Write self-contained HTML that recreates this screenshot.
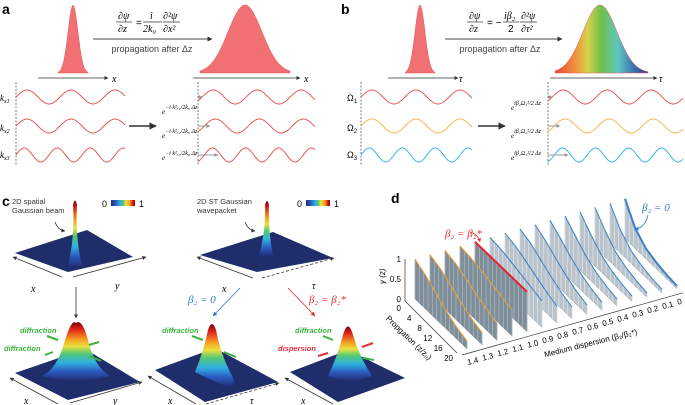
<!DOCTYPE html>
<html><head><meta charset="utf-8"><style>
html,body{margin:0;padding:0;background:#fff;}
svg{display:block;font-family:"Liberation Sans",sans-serif;}
.it{font-family:"Liberation Serif",serif;font-style:italic;}
</style></head><body>
<svg id="fig" width="685" height="405" viewBox="0 0 685 405">
<defs>
<linearGradient id="rainbow" x1="0" x2="1" y1="0" y2="0">
<stop offset="0" stop-color="#e8453c"/><stop offset="0.2" stop-color="#f08a3a"/><stop offset="0.35" stop-color="#d8d24a"/><stop offset="0.5" stop-color="#6cbf4a"/><stop offset="0.68" stop-color="#5ec8c0"/><stop offset="0.85" stop-color="#3a6fb0"/><stop offset="1" stop-color="#2f3f92"/>
</linearGradient>
<linearGradient id="jetv" x1="0" x2="0" y1="0" y2="1">
<stop offset="0" stop-color="#7a0000"/><stop offset="0.12" stop-color="#e0201a"/><stop offset="0.3" stop-color="#f5a020"/><stop offset="0.42" stop-color="#e8e040"/><stop offset="0.55" stop-color="#50c878"/><stop offset="0.7" stop-color="#30b0e0"/><stop offset="0.85" stop-color="#2b5cc0"/><stop offset="1" stop-color="#23307a"/>
</linearGradient>
<linearGradient id="jeth" x1="0" x2="1" y1="0" y2="0">
<stop offset="0" stop-color="#23307a"/><stop offset="0.2" stop-color="#2b5cc0"/><stop offset="0.38" stop-color="#30b0e0"/><stop offset="0.5" stop-color="#50c878"/><stop offset="0.62" stop-color="#e8e040"/><stop offset="0.78" stop-color="#f5a020"/><stop offset="0.9" stop-color="#e0201a"/><stop offset="1" stop-color="#7a0000"/>
</linearGradient>
<marker id="ah" viewBox="0 0 10 10" refX="9" refY="5" markerWidth="5" markerHeight="5" orient="auto"><path d="M0,0L10,5L0,10z" fill="#333"/></marker>
<marker id="ahg" viewBox="0 0 10 10" refX="9" refY="5" markerWidth="4" markerHeight="4" orient="auto"><path d="M0,0L10,5L0,10z" fill="#999"/></marker>
<marker id="ahb" viewBox="0 0 10 10" refX="9" refY="5" markerWidth="5" markerHeight="5" orient="auto"><path d="M0,0L10,5L0,10z" fill="#2a7fd0"/></marker>
<marker id="ahr" viewBox="0 0 10 10" refX="9" refY="5" markerWidth="5" markerHeight="5" orient="auto"><path d="M0,0L10,5L0,10z" fill="#e8303a"/></marker>
</defs>

<text x="2" y="14" font-size="14" font-weight="bold">a</text>
<text x="341" y="14" font-size="14" font-weight="bold">b</text>
<text x="2" y="206" font-size="14" font-weight="bold">c</text>
<text x="391" y="203" font-size="14" font-weight="bold">d</text>

<g id="gauss"></g>
<g id="waves"></g>

<g font-size="10">
<text x="118" y="19" class="it">∂ψ</text><line x1="116" y1="22" x2="132" y2="22" stroke="#333" stroke-width="0.7"/><text x="118" y="32" class="it">∂z</text>
<text x="136" y="26">=</text>
<text x="150" y="19" class="it">i</text><line x1="143" y1="22" x2="162" y2="22" stroke="#333" stroke-width="0.7"/><text x="143" y="32" class="it">2k₀</text>
<text x="163" y="19" class="it">∂²ψ</text><line x1="163" y1="22" x2="180" y2="22" stroke="#333" stroke-width="0.7"/><text x="163" y="32" class="it">∂x²</text>
</g>
<line x1="93" y1="39" x2="212" y2="39" stroke="#444" stroke-width="1" marker-end="url(#ah)"/>
<text x="152" y="52" font-size="9" fill="#444" text-anchor="middle">propagation after Δz</text>
<text x="112" y="82" font-size="10" class="it">x</text>
<text x="304" y="82" font-size="10" class="it">x</text>
<g font-size="9" class="it">
<text x="0" y="101">k<tspan font-size="6" dy="2">x1</tspan></text>
<text x="0" y="131">k<tspan font-size="6" dy="2">x2</tspan></text>
<text x="0" y="158">k<tspan font-size="6" dy="2">x3</tspan></text>
</g>
<g font-size="7" class="it">
<text x="162" y="114">e<tspan dy="-5" font-size="6">−i k²ₓ₁/2k₀ Δz</tspan></text>
<text x="162" y="138">e<tspan dy="-5" font-size="6">−i k²ₓ₂/2k₀ Δz</tspan></text>
<text x="162" y="160">e<tspan dy="-5" font-size="6">−i k²ₓ₃/2k₀ Δz</tspan></text>
</g>
<line x1="129" y1="126" x2="156" y2="126" stroke="#333" stroke-width="1.5" marker-end="url(#ah)"/>

<g font-size="10">
<text x="469" y="19" class="it">∂ψ</text><line x1="467" y1="22" x2="483" y2="22" stroke="#333" stroke-width="0.7"/><text x="469" y="32" class="it">∂z</text>
<text x="487" y="26">= −</text>
<text x="504" y="19" class="it">iβ₂</text><line x1="503" y1="22" x2="519" y2="22" stroke="#333" stroke-width="0.7"/><text x="508" y="32">2</text>
<text x="521" y="19" class="it">∂²ψ</text><line x1="520" y1="22" x2="537" y2="22" stroke="#333" stroke-width="0.7"/><text x="521" y="32" class="it">∂τ²</text>
</g>
<line x1="445" y1="39" x2="562" y2="39" stroke="#444" stroke-width="1" marker-end="url(#ah)"/>
<text x="500" y="52" font-size="9" fill="#444" text-anchor="middle">propagation after Δz</text>
<text x="459" y="82" font-size="10" class="it">τ</text>
<text x="659" y="82" font-size="10" class="it">τ</text>
<g font-size="9">
<text x="347" y="101">Ω<tspan font-size="6" dy="2">1</tspan></text>
<text x="347" y="131">Ω<tspan font-size="6" dy="2">2</tspan></text>
<text x="347" y="158">Ω<tspan font-size="6" dy="2">3</tspan></text>
</g>
<g font-size="7" class="it">
<text x="511" y="110">e<tspan dy="-5" font-size="6">iβ₂Ω₁²/2 Δz</tspan></text>
<text x="511" y="138">e<tspan dy="-5" font-size="6">iβ₂Ω₂²/2 Δz</tspan></text>
<text x="511" y="160">e<tspan dy="-5" font-size="6">iβ₂Ω₃²/2 Δz</tspan></text>
</g>
<line x1="478" y1="126" x2="505" y2="126" stroke="#333" stroke-width="1.5" marker-end="url(#ah)"/>

<g>
<g>
<path d="M15,253 L87,230 L133,257 L68,272 Z" fill="#1f2d6b"/>
<path d="M68,266 Q75,236 73,205 Q75,196 77,205 Q75,236 82,266 Z" fill="url(#jetv)"/>
<line x1="62" y1="277" x2="13" y2="257" stroke="#333" stroke-width="0.8" marker-end="url(#ah)"/>
<line x1="73" y1="277" x2="146" y2="257" stroke="#333" stroke-width="0.8" marker-end="url(#ah)"/>
<text x="31" y="292" font-size="10" class="it">x</text><text x="115" y="289" font-size="10" class="it">y</text>
<text x="12" y="204" font-size="7.5" fill="#333">2D spatial</text><text x="12" y="213" font-size="7.5" fill="#333">Gaussian beam</text>
<path d="M55,222 Q58,230 65,231" stroke="#333" fill="none" stroke-width="0.8" marker-end="url(#ah)"/>
</g>
<g>
<text x="102" y="207" font-size="9">0</text><rect x="111" y="200" width="24" height="6" fill="url(#jeth)"/><text x="139" y="207" font-size="9">1</text>
</g>
<g>
<path d="M200,255 L273,232 L333,258 L257,272 Z" fill="#1f2d6b"/>
<path d="M259,256 Q266,230 265,205 Q267,197 269,205 Q268,230 273,256 Z" fill="url(#jetv)"/>
<line x1="253" y1="278" x2="197" y2="257" stroke="#333" stroke-width="0.8" marker-end="url(#ah)"/>
<line x1="262" y1="278" x2="334" y2="258" stroke="#333" stroke-width="0.8" stroke-dasharray="3,2" marker-end="url(#ah)"/>
<text x="222" y="292" font-size="10" class="it">x</text><text x="312" y="289" font-size="10" class="it">τ</text>
<text x="197" y="204" font-size="7.5" fill="#333">2D ST Gaussian</text><text x="197" y="213" font-size="7.5" fill="#333">wavepacket</text>
<path d="M245,222 Q248,230 255,231" stroke="#333" fill="none" stroke-width="0.8" marker-end="url(#ah)"/>
</g>
<g>
<text x="297" y="207" font-size="9">0</text><rect x="306" y="200" width="24" height="6" fill="url(#jeth)"/><text x="334" y="207" font-size="9">1</text>
</g>
<line x1="76" y1="287" x2="76" y2="318" stroke="#333" stroke-width="0.8" marker-end="url(#ah)"/>
<line x1="240" y1="288" x2="213" y2="316" stroke="#2a7fd0" stroke-width="0.9" marker-end="url(#ahb)"/>
<text x="188" y="303" font-size="11" class="it" fill="#2a7fd0">β₂ = 0</text>
<line x1="288" y1="288" x2="315" y2="316" stroke="#e8303a" stroke-width="0.9" marker-end="url(#ahr)"/>
<text x="309" y="303" font-size="11" class="it" fill="#e8303a">β₂ = β₂*</text>

<g>
<path d="M15,373 L85,349 L140,382 L68,400 Z" fill="#1f2d6b"/>
<path d="M42,376 Q58,368 65,340 Q72,318 76,323 Q82,318 88,340 Q95,368 110,376 Q76,384 42,376 Z" fill="url(#jetv)"/>
<line x1="58" y1="404" x2="10" y2="378" stroke="#333" stroke-width="0.8" marker-end="url(#ah)"/>
<line x1="70" y1="403" x2="142" y2="382" stroke="#333" stroke-width="0.8" marker-end="url(#ah)"/>
<text x="24" y="404" font-size="10" class="it">x</text><text x="113" y="404" font-size="10" class="it">y</text>
<text x="20" y="333" font-size="7.5" font-weight="bold" font-style="italic" fill="#3cb43c">diffraction</text>
<text x="4" y="351" font-size="7.5" font-weight="bold" font-style="italic" fill="#3cb43c">diffraction</text>
<path d="M58,340 L47,336 M53,352 L45,355 M89,345 L99,342 M90,356 L101,361" stroke="#3cb43c" stroke-width="2"/>
</g>
<g>
<path d="M155,370 L215,348 L278,382 L205,402 Z" fill="#1f2d6b"/>
<path d="M195,372 Q204,350 208,330 Q212,318 216,330 Q220,352 230,372 Q240,388 226,386 Q210,380 195,372 Z" fill="url(#jetv)"/>
<line x1="196" y1="404" x2="148" y2="376" stroke="#333" stroke-width="0.8" marker-end="url(#ah)"/>
<line x1="206" y1="404" x2="279" y2="383" stroke="#333" stroke-width="0.8" stroke-dasharray="3,2" marker-end="url(#ah)"/>
<text x="168" y="404" font-size="10" class="it">x</text><text x="250" y="404" font-size="10" class="it">τ</text>
<text x="162" y="333" font-size="7.5" font-weight="bold" font-style="italic" fill="#3cb43c">diffraction</text>
<path d="M203,340 L192,336 M224,352 L236,357" stroke="#3cb43c" stroke-width="2"/>
</g>
<g>
<path d="M290,372 L348,350 L405,378 L338,402 Z" fill="#1f2d6b"/>
<path d="M328,376 Q338,355 343,335 Q348,318 353,335 Q360,358 372,376 Q350,384 328,376 Z" fill="url(#jetv)"/>
<line x1="333" y1="404" x2="285" y2="378" stroke="#333" stroke-width="0.8" marker-end="url(#ah)"/>
<text x="301" y="404" font-size="10" class="it">x</text>
<text x="295" y="333" font-size="7.5" font-weight="bold" font-style="italic" fill="#3cb43c">diffraction</text>
<text x="278" y="351" font-size="7.5" font-weight="bold" font-style="italic" fill="#e8303a">dispersion</text>
<path d="M333,340 L323,336" stroke="#3cb43c" stroke-width="2"/>
<path d="M328,353 L318,356" stroke="#e8303a" stroke-width="2"/>
<path d="M362,347 L373,343" stroke="#e8303a" stroke-width="2"/>
<path d="M363,358 L374,360" stroke="#3cb43c" stroke-width="2"/>
</g>
</g>

<g id="waterfall"></g>
</svg>

<script>
const dispersions = ["1.4","1.3","1.2","1.1","1.0","0.9","0.8","0.7","0.6","0.5","0.4","0.3","0.2","0.1","0"];
const zTicks = [0,4,8,12,16,20];
const gammaTicks = [0,0.5,1];
const g14 = [1,0.85,0.65,0.45,0.3,0.2];
const g13 = [1,0.9,0.72,0.55,0.4,0.3];
const g12 = [1,0.93,0.8,0.66,0.53,0.42];
const g11 = [1,0.97,0.9,0.82,0.74,0.66];
const g10 = [1,1,1,1,1,1];
const g09 = [1,0.97,0.9,0.82,0.74,0.66];
const g08 = [1,0.93,0.8,0.66,0.53,0.42];
const g07 = [1,0.9,0.72,0.55,0.4,0.3];
const g06 = [1,0.85,0.65,0.47,0.33,0.24];
const g05 = [1,0.8,0.57,0.4,0.28,0.2];
const g04 = [1,0.75,0.5,0.34,0.24,0.17];
const g03 = [1,0.7,0.44,0.29,0.2,0.14];
const g02 = [1,0.65,0.38,0.24,0.16,0.11];
const g01 = [1,0.58,0.32,0.2,0.13,0.09];
const g00 = [1,0.5,0.26,0.16,0.1,0.07];
const gammaSeries = [g14,g13,g12,g11,g10,g09,g08,g07,g06,g05,g04,g03,g02,g01,g00];

const NS = "http://www.w3.org/2000/svg";
function mk(tag, attrs, parent){const e=document.createElementNS(NS,tag);for(const k in attrs)e.setAttribute(k,attrs[k]);parent.appendChild(e);return e;}

const X0=415, Y0=299, DX=15, DY=-4.3, ZX=2.6, ZY=2.5, H=40;
function px(i,z,g){return X0+i*DX+z*ZX;}
function py(i,z,g){return Y0+i*DY+z*ZY-g*H;}

const wf=document.getElementById('waterfall');
const axes=mk('g',{},wf);


mk('line',{x1:px(0,0,0)-10,y1:py(0,0,0)-40,x2:px(0,0,0)-10,y2:py(0,0,0)+2,stroke:'#333','stroke-width':0.7},axes);
gammaTicks.forEach(t=>{
  const tx=mk('text',{x:px(0,0,0)-14,y:py(0,0,t)+3,'font-size':8,'text-anchor':'end'},axes);
  tx.textContent=t;
  
  
});
const gl=mk('text',{x:0,y:0,'font-size':8,'font-style':'italic',transform:`translate(${px(0,0,0)-30},${py(0,0,0.5)+5}) rotate(-90)`},axes);
gl.textContent='γ (z)';


mk('line',{x1:px(0,0,0)-10,y1:py(0,0,0)+2,x2:px(0,20,0)-10,y2:py(0,20,0)+4,stroke:'#333','stroke-width':0.7},axes);
zTicks.forEach(z=>{
  const tx=mk('text',{x:px(0,z,0)-14,y:py(0,z,0)+12,'font-size':8,'text-anchor':'end'},axes);
  tx.textContent=z;
  
  
});
const zl=mk('text',{x:0,y:0,'font-size':8,transform:`translate(${px(0,4,0)-40},${py(0,4,0)+10}) rotate(44)`},axes);
zl.textContent='Propgation (z/z₀)';


mk('line',{x1:px(0,20,0)-5,y1:py(0,20,0)+6,x2:px(14,20,0)+6,y2:py(14,20,0)+4,stroke:'#333','stroke-width':0.7},axes);
dispersions.forEach((d,i)=>{
  const tx=mk('text',{x:0,y:0,'font-size':8,transform:`translate(${px(i,20,0)+1},${py(i,20,0)+16}) rotate(-14)`},axes);
  tx.textContent=d;
  
  
});
const dl=mk('text',{x:0,y:0,'font-size':8,transform:`translate(${px(6,20,0)-12},${py(6,20,0)+34}) rotate(-14)`},axes);
dl.textContent='Medium dispersion (β₂/β₂*)';



for(let i=dispersions.length-1;i>=0;i--){
  const vals=gammaSeries[i];
  const g=mk('g',{},wf);
  
  
  let top=[], bot=[];
  vals.forEach((v,k)=>{top.push([px(i,zTicks[k],v),py(i,zTicks[k],v)]);bot.push([px(i,zTicks[k],0),py(i,zTicks[k],0)]);});
  const pts=top.concat(bot.slice().reverse()).map(p=>p.join(',')).join(' ');
  const fill=i<=4?'#7d8e98':'#b9c3cb';
  mk('polygon',{points:pts,fill:fill,stroke:'#5a6a74','stroke-width':0.3},g);
  const N=12;
  for(let s=0;s<=N;s++){
    const zz=20*s/N; const k=Math.min(4,Math.floor(zz/4)); const f=(zz-zTicks[k])/4;
    const v=vals[k]+(vals[k+1]-vals[k])*f;
    mk('line',{x1:px(i,zz,0),y1:py(i,zz,0),x2:px(i,zz,v),y2:py(i,zz,v),stroke:i<=4?'#aab6be':'#dde3e8','stroke-width':0.8},g);
  }
  const col=i<4?'#f0a030':(i===4?'#e8202a':'#3a7fc8');
  const line=mk('polyline',{points:top.map(p=>p.join(',')).join(' '),fill:'none',stroke:col,'stroke-width':i===4||i===14?2:1},g);
  
  
}
const bs=mk('text',{x:445,y:237,'font-size':11,'font-style':'italic',fill:'#e8303a','font-family':'Liberation Serif, serif'},wf);
bs.textContent='β₂ = β₂*';


const b0=mk('text',{x:642,y:211,'font-size':11,'font-style':'italic',fill:'#2a7fd0','font-family':'Liberation Serif, serif'},wf);
b0.textContent='β₂ = 0';


mk('path',{d:'M470,232 Q478,234 480,242',fill:'none',stroke:'#e8303a','stroke-width':0.8,'marker-end':'url(#ahr)'},wf);
mk('path',{d:'M648,215 Q645,228 635,229',fill:'none',stroke:'#2a7fd0','stroke-width':0.8,'marker-end':'url(#ahb)'},wf);

const gp=document.getElementById('gauss');
function gaussPath(cx,sig,base,h,x0,x1){let d=`M${x0},${base}`;for(let x=x0;x<=x1;x+=1){d+=` L${x},${base-h*Math.exp(-((x-cx)**2)/(2*sig*sig))}`;}d+=` L${x1},${base} Z`;return d;}
const pulses=[[73,5,73,68,58,88,'#f07074','pulse-a-input'],[245,17,73,68,200,290,'#f07074','pulse-a-output'],[420,5,73,68,405,435,'#f07074','pulse-b-input'],[600,17,73,68,555,648,'url(#rainbow)','pulse-b-output']];
pulses.forEach(p=>{
  const e=mk('path',{d:gaussPath(p[0],p[1],p[2],p[3],p[4],p[5]),fill:p[6],stroke:'#e85a5e','stroke-width':0.5},gp);
  
  
});
[[38,108],[193,300],[388,458],[550,657]].forEach(a=>{
  const e=mk('line',{x1:a[0],y1:78,x2:a[1],y2:78,stroke:'#333','stroke-width':0.8,'marker-end':'url(#ah)'},gp);
  
  
});

const wv=document.getElementById('waves');
function wave(x0,x1,yc,amp,period,phase,col){let d='';for(let x=x0;x<=x1;x+=0.5){const y=yc-amp*Math.sin(2*Math.PI*(x-x0)/period+phase);d+=(d?' L':'M')+x.toFixed(1)+','+y.toFixed(1);}return mk('path',{d:d,fill:'none',stroke:col,'stroke-width':0.9},wv);}
const rows=[[97,44,0.6],[126,44,0.9],[155,33,1.2]];
const colsA=['#e84a4a','#e84a4a','#e84a4a'], colsB=['#e84a4a','#f5b040','#29b0ef'];
[[16,125,198,315,colsA],[361,472,548,683,colsB]].forEach(P=>{
  [P[0],P[2]].forEach(x=>{const e=mk('line',{x1:x,y1:82,x2:x,y2:165,stroke:'#444','stroke-width':0.7,'stroke-dasharray':'2,1.5'},wv);});
  rows.forEach((r,k)=>{
    const a=wave(P[0],P[1],r[0],7,r[1],0,P[4][k]);
    
    
    const b=wave(P[2],P[3],r[0],7,r[1],-r[2],P[4][k]);
    
    
    const s=mk('line',{x1:P[2],y1:r[0],x2:P[2]+4+k*8,y2:r[0],stroke:'#999','stroke-width':1,'marker-end':'url(#ahg)'},wv);
    
    
  });
});
</script>
</body></html>
